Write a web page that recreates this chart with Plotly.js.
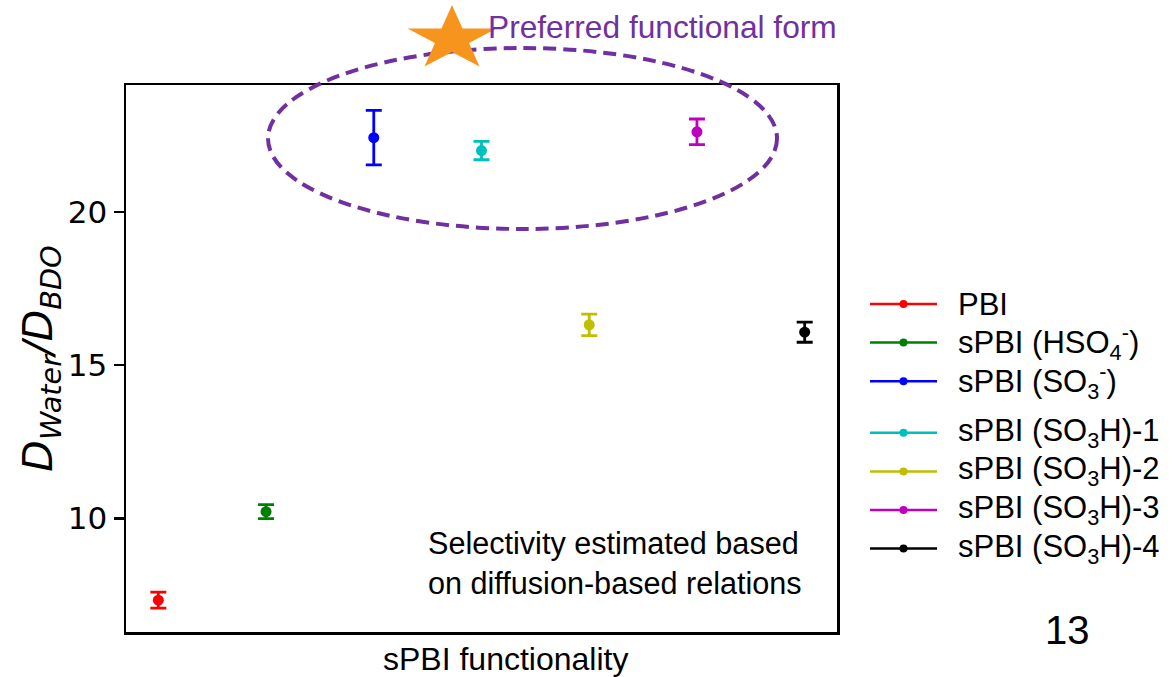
<!DOCTYPE html>
<html>
<head>
<meta charset="utf-8">
<script src="https://cdn.plot.ly/plotly-3.0.1.min.js"></script>
<style>
  html, body { margin: 0; padding: 0; background: #ffffff; }
  #chart { width: 1173px; height: 677px; }
</style>
</head>
<body>
<div id="chart"></div>
<script>
// Membrane series, in plotting order along the x axis
const categories = [
  'PBI',
  'sPBI (HSO<sub>4</sub><sup>-</sup>)',
  'sPBI (SO<sub>3</sub><sup>-</sup>)',
  'sPBI (SO<sub>3</sub>H)-1',
  'sPBI (SO<sub>3</sub>H)-2',
  'sPBI (SO<sub>3</sub>H)-3',
  'sPBI (SO<sub>3</sub>H)-4'
];
const positions = [0, 1, 2, 3, 4, 5, 6];
// Selectivity D_Water / D_BDO and its uncertainty
const ratios = [7.33, 10.22, 22.43, 22.01, 16.32, 22.62, 16.08];
const errors = [0.26, 0.23, 0.89, 0.30, 0.35, 0.42, 0.33];
const yTicks = [10, 15, 20];

const colors = ['#ff0000', '#008000', '#0000ff', '#00bfbf', '#bfbf00', '#bf00bf', '#000000'];

const W = 1173, H = 677;
const L = 126, R = 837, T = 85, B = 632;
const px = p => (p - L) / (R - L);
const py = p => (B - p) / (B - T);

const ARIAL = 'Liberation Sans, Arial, sans-serif';
const DEJAVU = 'DejaVu Sans, sans-serif';
const PURPLE = '#7030a0';

const traces = categories.map((name, i) => ({
  type: 'scatter',
  mode: 'markers',
  name: name,
  x: [positions[i]],
  y: [ratios[i]],
  marker: { color: colors[i], size: 11 },
  error_y: { type: 'data', array: [errors[i]], visible: true, color: colors[i], thickness: 2.8, width: 8 },
  showlegend: false,
  hoverinfo: 'x+y'
}));

const shapes = [];
const annotations = [];

// dashed highlight around the preferred group
shapes.push({
  type: 'circle', xref: 'paper', yref: 'paper',
  x0: px(268), x1: px(777), y0: py(229), y1: py(48),
  line: { color: PURPLE, width: 4, dash: '13px,7px' },
  fillcolor: 'rgba(0,0,0,0)', layer: 'above'
});

// five-pointed star marker next to the callout
(function () {
  const cx = 452, cy = 39, rx = 46.8, ry = 34.1, inner = 0.382;
  const pts = [];
  for (let k = 0; k < 10; k++) {
    const a = (-90 + 36 * k) * Math.PI / 180;
    const r = k % 2 === 0 ? 1 : inner;
    pts.push(px(cx + rx * r * Math.cos(a)).toFixed(5) + ',' + py(cy + ry * r * Math.sin(a)).toFixed(5));
  }
  shapes.push({
    type: 'path', xref: 'paper', yref: 'paper',
    path: 'M' + pts.join('L') + 'Z',
    fillcolor: '#f7941d', line: { width: 0 }, layer: 'above'
  });
})();

annotations.push({
  xref: 'paper', yref: 'paper', x: px(486), y: py(27),
  xanchor: 'left', yanchor: 'middle', showarrow: false,
  text: 'Preferred functional form',
  font: { family: ARIAL, size: 31.7, color: PURPLE }
});

annotations.push({
  xref: 'paper', yref: 'paper', x: px(426), y: py(563),
  xanchor: 'left', yanchor: 'middle', align: 'left', showarrow: false,
  text: 'Selectivity estimated based<br>on diffusion-based relations',
  font: { family: ARIAL, size: 30.6, color: '#000000' }
});

// horizontal axis label
annotations.push({
  xref: 'paper', yref: 'paper', x: px(505), y: py(659),
  xanchor: 'center', yanchor: 'middle', showarrow: false,
  text: 'sPBI functionality',
  font: { family: ARIAL, size: 32, color: '#000000' }
});

annotations.push({
  xref: 'paper', yref: 'paper', x: px(1067), y: py(630),
  xanchor: 'center', yanchor: 'middle', showarrow: false,
  text: '13',
  font: { family: ARIAL, size: 40, color: '#000000' }
});

// legend: line sample with a dot, then the series name
const legendX0 = 870, legendX1 = 937, legendText = 956;
const legendTop = 304, legendStep = 38.6, legendGap = 13;
categories.forEach((name, i) => {
  const y = legendTop + i * legendStep + (i >= 3 ? legendGap : 0);
  shapes.push({
    type: 'line', xref: 'paper', yref: 'paper',
    x0: px(legendX0), x1: px(legendX1), y0: py(y), y1: py(y),
    line: { color: colors[i], width: 2.5 }
  });
  const mx = (legendX0 + legendX1) / 2;
  shapes.push({
    type: 'circle', xref: 'paper', yref: 'paper',
    x0: px(mx - 4), x1: px(mx + 4), y0: py(y + 4), y1: py(y - 4),
    fillcolor: colors[i], line: { color: colors[i], width: 0 }
  });
  annotations.push({
    xref: 'paper', yref: 'paper', x: px(legendText), y: py(y),
    xanchor: 'left', yanchor: 'middle', showarrow: false,
    text: name,
    font: { family: ARIAL, size: 31, color: '#000000' }
  });
});

const layout = {
  width: W, height: H,
  margin: { l: L, r: W - R, t: T, b: H - B, pad: 0 },
  paper_bgcolor: '#ffffff', plot_bgcolor: '#ffffff',
  showlegend: false,
  xaxis: {
    range: [-0.3, 6.3],
    showticklabels: false, ticks: '', showgrid: false, zeroline: false,
    showline: true, mirror: true, linecolor: '#000000', linewidth: 2.5
  },
  yaxis: {
    range: [6.29, 24.15],
    tickvals: yTicks, ticktext: yTicks.map(String),
    ticks: 'outside', ticklen: 10, tickwidth: 2.5, tickcolor: '#000000',
    tickfont: { family: DEJAVU, size: 31, color: '#000000' },
    showgrid: false, zeroline: false,
    showline: true, mirror: true, linecolor: '#000000', linewidth: 2.5,
    title: {
      text: '<i>D</i><sub><i>Water</i></sub><i>/D</i><sub><i>BDO</i></sub>',
      font: { family: DEJAVU, size: 41, color: '#000000' },
      standoff: 0
    }
  },
  shapes: shapes,
  annotations: annotations
};

Plotly.newPlot('chart', traces, layout, { displayModeBar: false, staticPlot: true });
</script>
</body>
</html>
